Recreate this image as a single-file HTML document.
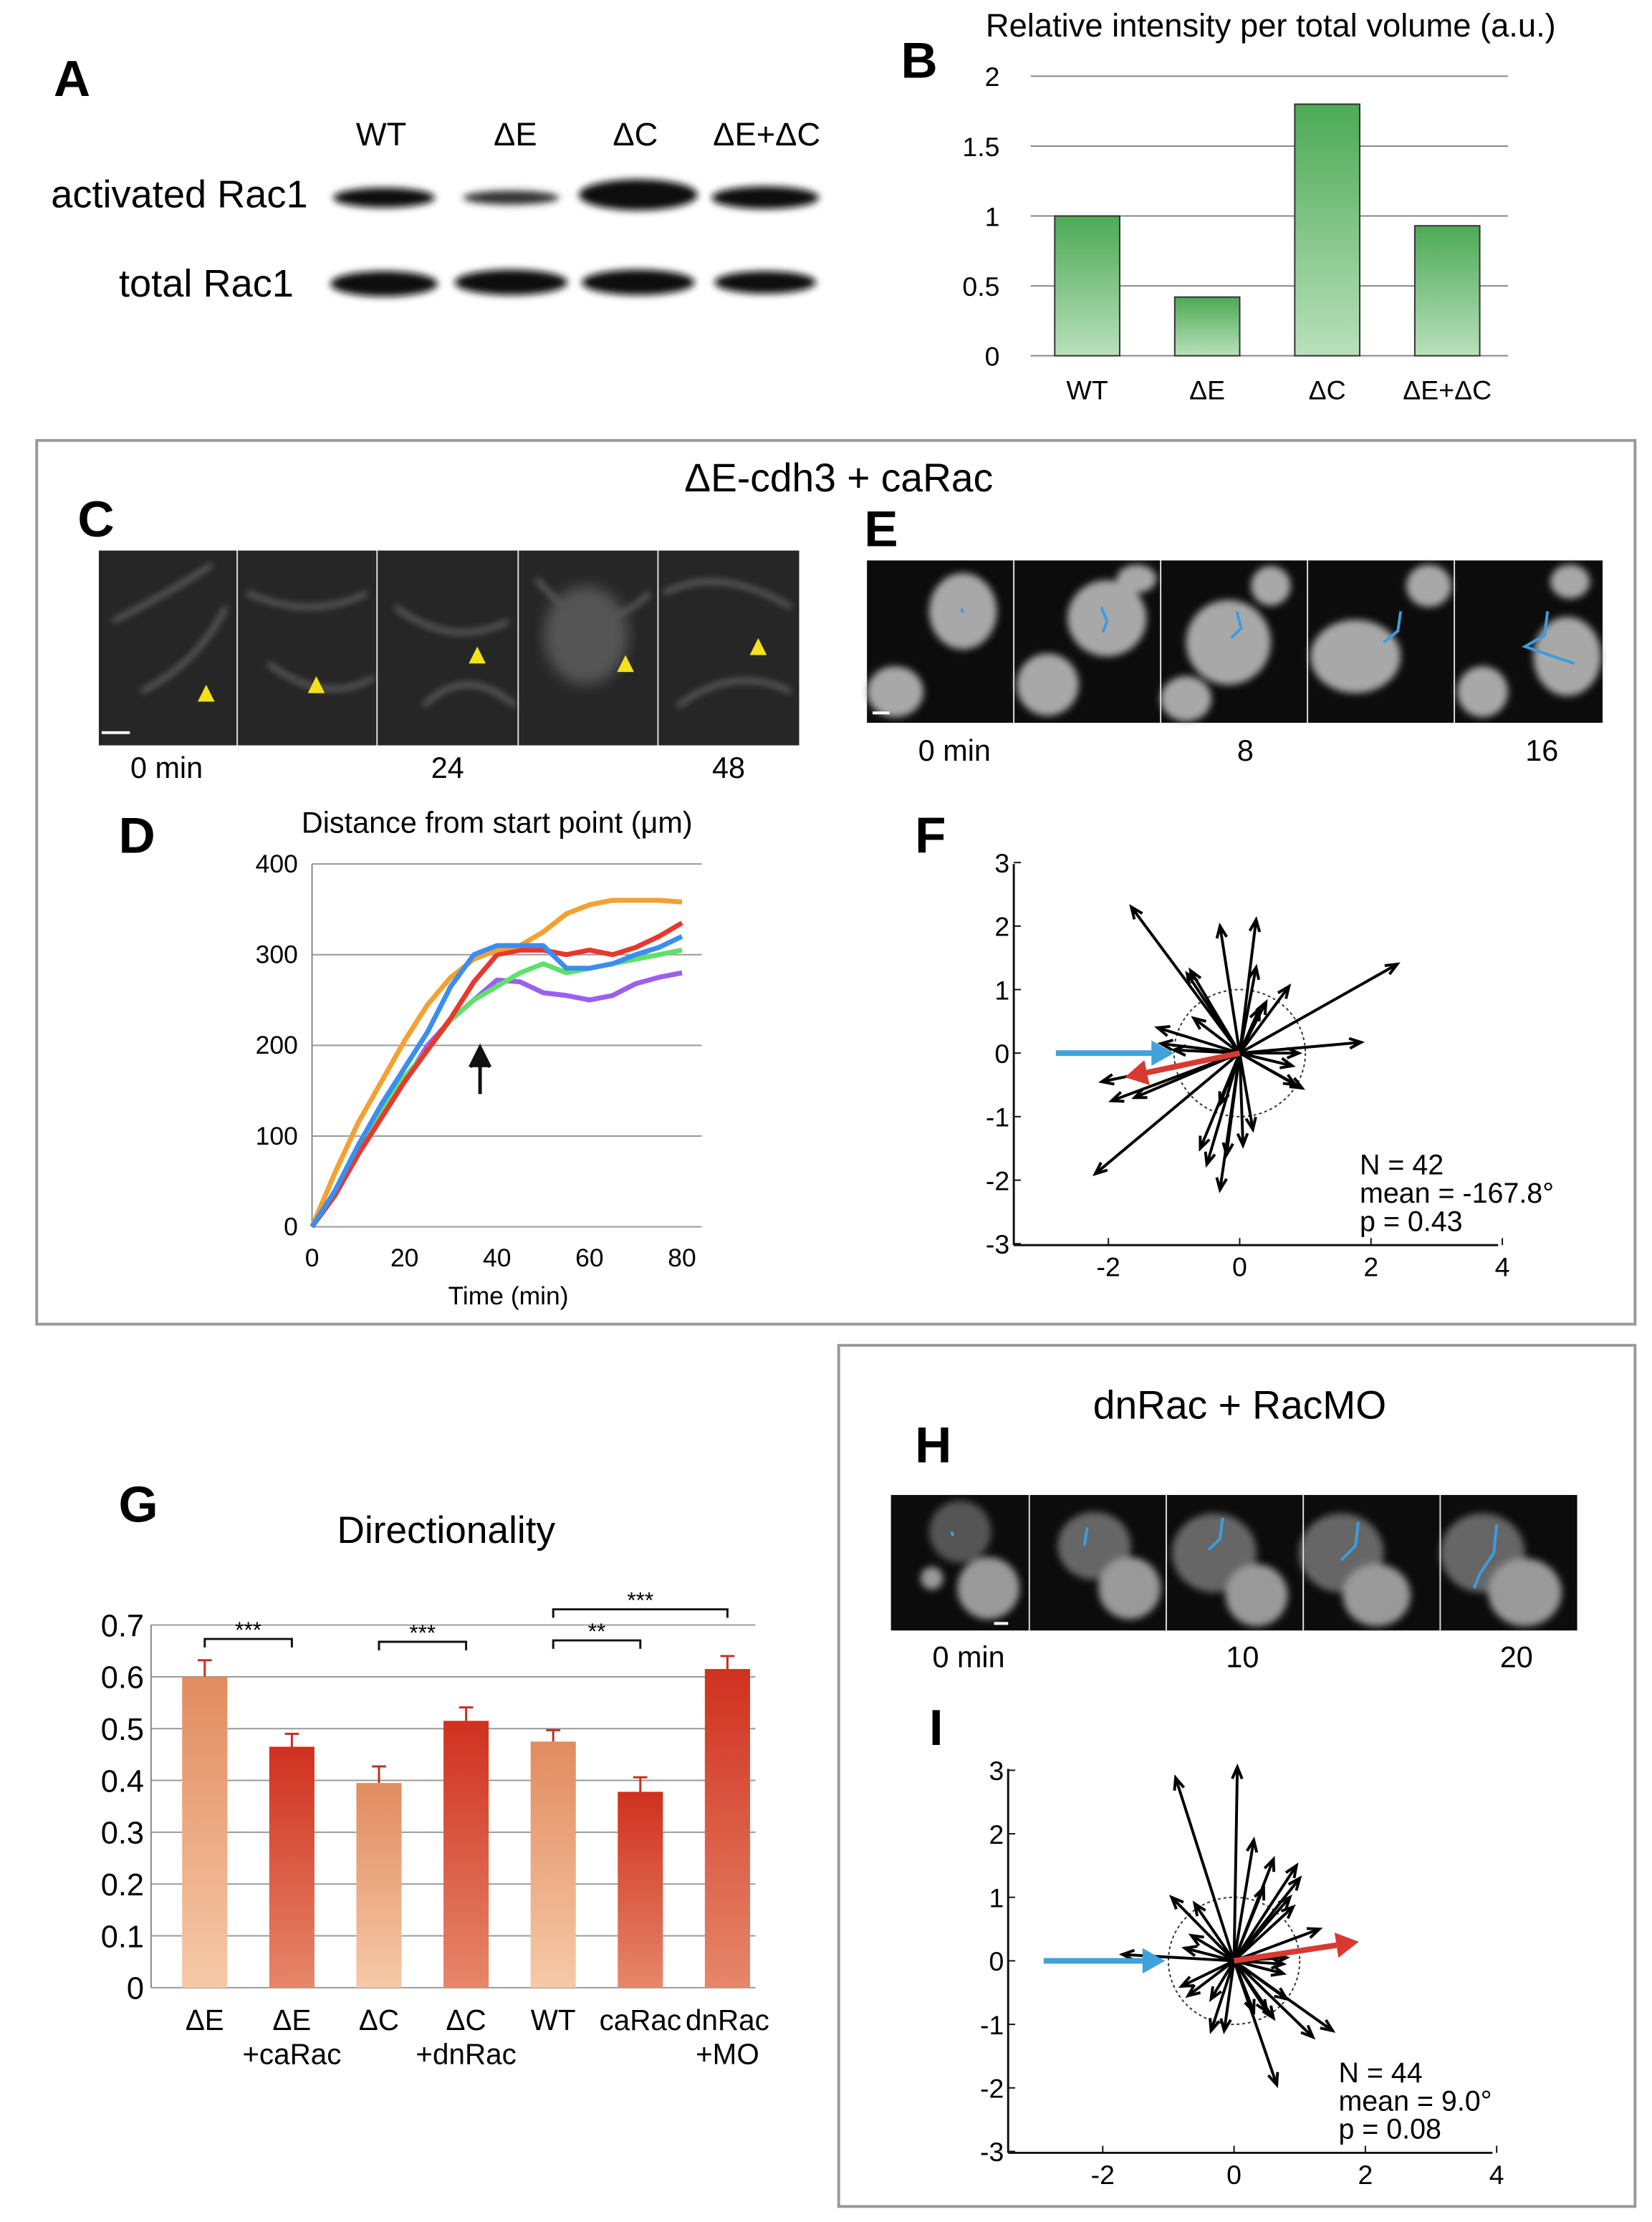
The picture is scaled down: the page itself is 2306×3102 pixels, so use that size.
<!DOCTYPE html>
<html><head><meta charset="utf-8"><style>
html,body{margin:0;padding:0;background:#fff}
svg{display:block;font-family:"Liberation Sans",sans-serif}
</style></head><body>
<svg id="fig" width="2306" height="3102" viewBox="0 0 1170 1574" preserveAspectRatio="none" xmlns="http://www.w3.org/2000/svg">
<defs>
<filter id="blur2"><feGaussianBlur stdDeviation="2.5"/></filter>
<filter id="blur4"><feGaussianBlur stdDeviation="5"/></filter>
<linearGradient id="gGreen" x1="0" y1="0" x2="0" y2="1"><stop offset="0" stop-color="#4caa55"/><stop offset="1" stop-color="#b9e0bc"/></linearGradient>
<linearGradient id="gLight" x1="0" y1="0" x2="0" y2="1"><stop offset="0" stop-color="#e28b5f"/><stop offset="1" stop-color="#f6c9a8"/></linearGradient>
<linearGradient id="gRed" x1="0" y1="0" x2="0" y2="1"><stop offset="0" stop-color="#d0301f"/><stop offset="1" stop-color="#e6876a"/></linearGradient>
</defs>

<!-- Panel A -->
<g>
<text x="38" y="68" font-size="36" font-weight="bold">A</text>
<text x="270" y="103" font-size="23" text-anchor="middle">WT</text>
<text x="365" y="103" font-size="23" text-anchor="middle">ΔE</text>
<text x="450" y="103" font-size="23" text-anchor="middle">ΔC</text>
<text x="543" y="103" font-size="23" text-anchor="middle">ΔE+ΔC</text>
<text x="218" y="147" font-size="27.5" text-anchor="end">activated Rac1</text>
<text x="208" y="210" font-size="27.5" text-anchor="end">total Rac1</text>
<g filter="url(#blur2)" fill="#111">
<ellipse cx="272" cy="140" rx="36" ry="7"/><ellipse cx="362" cy="140" rx="34" ry="5" fill="#333"/>
<ellipse cx="452" cy="138" rx="42" ry="11"/><ellipse cx="542" cy="140" rx="38" ry="8"/>
<ellipse cx="272" cy="201" rx="38" ry="9"/><ellipse cx="362" cy="200" rx="40" ry="9"/>
<ellipse cx="452" cy="200" rx="40" ry="9"/><ellipse cx="542" cy="200" rx="36" ry="8"/>
</g>
</g>

<!-- Panel B -->
<g id="chartB">
<text x="638" y="55" font-size="36" font-weight="bold">B</text>
<text x="900" y="26" font-size="23" text-anchor="middle">Relative intensity per total volume (a.u.)</text>
</g>

<!-- Frame 1 -->
<rect x="26" y="312" width="1132" height="626" fill="none" stroke="#999" stroke-width="2"/>
<text x="594" y="348" font-size="28" text-anchor="middle">ΔE-cdh3 + caRac</text>

<!-- Panel C -->
<g>
<text x="55" y="380" font-size="36" font-weight="bold">C</text>
<rect x="70" y="390" width="496" height="138" fill="#262626"/>
<g stroke="#bbb" stroke-width="2" fill="none" opacity="0.7" filter="url(#blur2)">
<path d="M80 440 Q120 420 150 400 M100 490 Q140 470 160 430 M175 420 Q220 440 260 420 M190 470 Q230 500 265 480 M280 430 Q320 460 360 440 M300 500 Q330 470 365 500 M380 410 Q420 460 460 420 M470 420 Q510 400 560 430 M480 500 Q520 470 560 490"/>
</g>
<ellipse cx="415" cy="450" rx="30" ry="35" fill="#555" filter="url(#blur4)"/>
<g stroke="#ddd" stroke-width="1"><line x1="168" y1="390" x2="168" y2="528"/><line x1="267" y1="390" x2="267" y2="528"/><line x1="367" y1="390" x2="367" y2="528"/><line x1="466" y1="390" x2="466" y2="528"/></g>
<g fill="#f3e21a"><polygon points="146,485 140,497 152,497"/><polygon points="224,479 218,491 230,491"/><polygon points="338,458 332,470 344,470"/><polygon points="443,464 437,476 449,476"/><polygon points="537,452 531,464 543,464"/></g>
<line x1="72" y1="519" x2="92" y2="519" stroke="#fff" stroke-width="2"/>
<text x="118" y="551" font-size="21" text-anchor="middle">0 min</text>
<text x="317" y="551" font-size="21" text-anchor="middle">24</text>
<text x="516" y="551" font-size="21" text-anchor="middle">48</text>
</g>

<!-- Panel E -->
<g>
<text x="612" y="387" font-size="36" font-weight="bold">E</text>
<rect x="614" y="397" width="521" height="115" fill="#0c0c0c"/>
<g fill="#a8a8a8" filter="url(#blur2)">
<ellipse cx="682" cy="433" rx="24" ry="27"/><ellipse cx="634" cy="490" rx="20" ry="18"/>
<ellipse cx="784" cy="438" rx="28" ry="27"/><ellipse cx="742" cy="485" rx="22" ry="22"/><ellipse cx="805" cy="410" rx="14" ry="10"/>
<ellipse cx="870" cy="455" rx="30" ry="30"/><ellipse cx="900" cy="415" rx="14" ry="14"/><ellipse cx="840" cy="495" rx="18" ry="16"/>
<ellipse cx="960" cy="465" rx="32" ry="26"/><ellipse cx="1012" cy="415" rx="16" ry="15"/>
<ellipse cx="1110" cy="465" rx="24" ry="28"/><ellipse cx="1050" cy="490" rx="18" ry="18"/><ellipse cx="1112" cy="412" rx="14" ry="12"/>
</g>
<g stroke="#ddd" stroke-width="1"><line x1="718" y1="397" x2="718" y2="512"/><line x1="822" y1="397" x2="822" y2="512"/><line x1="926" y1="397" x2="926" y2="512"/><line x1="1030" y1="397" x2="1030" y2="512"/></g>
<g stroke="#3a9de0" stroke-width="2" fill="none"><path d="M681 431 L682 434"/><path d="M780 430 L784 440 L781 448"/><path d="M876 433 L879 445 L872 452"/><path d="M992 433 L990 447 L980 455"/><path d="M1096 433 L1094 450 L1080 458 L1100 465 L1115 470"/></g>
<line x1="618" y1="505" x2="630" y2="505" stroke="#fff" stroke-width="2"/>
<text x="676" y="539" font-size="21" text-anchor="middle">0 min</text>
<text x="882" y="539" font-size="21" text-anchor="middle">8</text>
<text x="1092" y="539" font-size="21" text-anchor="middle">16</text>
</g>

<!-- Panel D -->
<g id="chartD">
<text x="84" y="604" font-size="36" font-weight="bold">D</text>
<text x="352" y="590" font-size="21" text-anchor="middle">Distance from start point (μm)</text>
<text x="360" y="924" font-size="18" text-anchor="middle">Time (min)</text>
</g>

<!-- Panel F -->
<g id="chartF">
<text x="648" y="604" font-size="36" font-weight="bold">F</text>
<text x="963" y="832" font-size="20">N = 42</text>
<text x="963" y="852" font-size="20">mean = -167.8°</text>
<text x="963" y="872" font-size="20">p = 0.43</text>
</g>

<!-- Panel G -->
<g id="chartG">
<text x="84" y="1078" font-size="36" font-weight="bold">G</text>
<text x="316" y="1093" font-size="27" text-anchor="middle">Directionality</text>
</g>

<!-- Frame 2 -->
<rect x="594" y="953" width="564" height="610" fill="none" stroke="#999" stroke-width="2"/>
<text x="878" y="1005" font-size="28" text-anchor="middle">dnRac + RacMO</text>

<!-- Panel H -->
<g>
<text x="648" y="1036" font-size="36" font-weight="bold">H</text>
<rect x="631" y="1059" width="486" height="96" fill="#0c0c0c"/>
<g fill="#9a9a9a" filter="url(#blur2)">
<ellipse cx="680" cy="1085" rx="22" ry="22" fill="#555"/><ellipse cx="700" cy="1125" rx="22" ry="22"/><ellipse cx="660" cy="1118" rx="8" ry="8"/>
<ellipse cx="775" cy="1095" rx="26" ry="24" fill="#666"/><ellipse cx="800" cy="1125" rx="22" ry="22"/>
<ellipse cx="860" cy="1100" rx="30" ry="28" fill="#666"/><ellipse cx="890" cy="1130" rx="22" ry="22"/>
<ellipse cx="950" cy="1100" rx="30" ry="28" fill="#666"/><ellipse cx="975" cy="1130" rx="24" ry="22"/>
<ellipse cx="1050" cy="1100" rx="30" ry="28" fill="#666"/><ellipse cx="1080" cy="1128" rx="26" ry="24"/>
</g>
<g stroke="#ddd" stroke-width="1"><line x1="729" y1="1059" x2="729" y2="1155"/><line x1="826" y1="1059" x2="826" y2="1155"/><line x1="923" y1="1059" x2="923" y2="1155"/><line x1="1020" y1="1059" x2="1020" y2="1155"/></g>
<g stroke="#3a9de0" stroke-width="2" fill="none"><path d="M674 1085 L675 1088"/><path d="M770 1082 L768 1095"/><path d="M866 1075 L864 1090 L856 1098"/><path d="M962 1078 L960 1095 L950 1105"/><path d="M1060 1080 L1058 1100 L1048 1115 L1044 1125"/></g>
<line x1="704" y1="1150" x2="714" y2="1150" stroke="#fff" stroke-width="2"/>
<text x="686" y="1181" font-size="21" text-anchor="middle">0 min</text>
<text x="880" y="1181" font-size="21" text-anchor="middle">10</text>
<text x="1074" y="1181" font-size="21" text-anchor="middle">20</text>
</g>

<!-- Panel I -->
<g id="chartI">
<text x="658" y="1236" font-size="36" font-weight="bold">I</text>
<text x="948" y="1475" font-size="20">N = 44</text>
<text x="948" y="1495" font-size="20">mean = 9.0°</text>
<text x="948" y="1515" font-size="20">p = 0.08</text>
</g>
</svg>

<script>
// ---- Panel B data ----
const bCategories = ["WT","ΔE","ΔC","ΔE+ΔC"];
const bValues = [1.0, 0.42, 1.8, 0.93];
const bTicks = [0, 0.5, 1, 1.5, 2];

// ---- Panel D data ----
const dTimes = [0,5,10,15,20,25,30,35,40,45,50,55,60,65,70,75,80];
const dOrange = [0,60,115,160,205,245,275,295,305,310,325,345,355,360,360,360,358];
const dRed    = [0,35,80,120,160,195,230,270,300,305,305,300,305,300,308,320,335];
const dBlue   = [0,40,90,135,175,215,265,300,310,310,310,285,285,290,300,308,320];
const dGreen  = [0,35,85,130,165,195,228,250,265,280,290,280,285,290,295,300,305];
const dPurple = [0,35,80,125,160,200,228,250,272,270,258,255,250,255,268,275,280];
const dYTicks = [0,100,200,300,400];
const dXTicks = [0,20,40,60,80];

// ---- Panel F data ----
const fTipsX = [-1.65,-0.3,0.25,0.25,-0.75,-0.8,0.75,0.4,2.4,-1.25,-1.2,-1.0,1.85,0.9,0.8,0.95,0.85,-2.1,-1.95,-1.6,-2.2,-0.5,-0.3,0.05,0.2,-0.6,-0.2,-0.7,0.3,-0.3];
const fTipsY = [2.3,2.0,2.1,1.35,1.3,1.25,1.05,0.8,1.4,0.4,0.15,0.05,0.17,0.0,-0.2,-0.55,-0.5,-0.45,-0.75,-0.7,-1.9,-1.75,-2.15,-1.45,-1.2,-1.5,-1.6,0.55,0.7,-0.8];
const fMean = [-1.75,-0.38];
const fTicksX = [-2,0,2,4];
const fTicksY = [-3,-2,-1,0,1,2,3];

// ---- Panel G data ----
const gCategories = [["ΔE"],["ΔE","+caRac"],["ΔC"],["ΔC","+dnRac"],["WT"],["caRac"],["dnRac","+MO"]];
const gValues = [0.60,0.465,0.395,0.515,0.475,0.378,0.615];
const gErrors = [0.032,0.025,0.032,0.026,0.022,0.028,0.025];
const gTicks = [0,0.1,0.2,0.3,0.4,0.5,0.6,0.7];

// ---- Panel I data ----
const iTipsX = [-0.89,0.05,0.3,0.6,0.95,1.0,0.85,0.9,1.3,-0.95,-0.6,-0.65,-0.75,-1.7,0.8,0.75,0.75,-0.8,-0.7,-0.35,-0.35,-0.15,0.3,0.5,0.6,1.5,1.2,0.65,0.8,0.45];
const iTipsY = [2.88,3.05,1.9,1.6,1.5,1.3,1.0,0.85,0.5,1.0,0.9,0.4,0.2,0.1,0.05,-0.05,-0.2,-0.4,-0.55,-0.6,-1.1,-1.1,-0.8,-0.8,-0.9,-1.1,-1.2,-1.95,-0.6,1.15];
const iMean = [1.9,0.3];

const NS="http://www.w3.org/2000/svg";
function el(parent, tag, attrs){const e=document.createElementNS(NS,tag);for(const k in attrs)e.setAttribute(k,attrs[k]);parent.appendChild(e);return e;}
function txt(parent,x,y,s,size,anchor){const t=el(parent,"text",{x:x,y:y,"font-size":size,"text-anchor":anchor||"middle"});t.textContent=s;return t;}

// ---- Chart B ----
(function(){
 const g=document.getElementById("chartB");
 const y=v=>252-v*99, x0=730, x1=1068;
 const cx=i=>770+i*85;
 bTicks.forEach(t=>{
  const l=el(g,"line",{x1:x0,x2:x1,y1:y(t),y2:y(t),stroke:"#888","stroke-width":1});
  
  
  const tl=txt(g,708,y(t)+7,String(t),19,"end");
  
  
 });
 bValues.forEach((v,i)=>{
  const r=el(g,"rect",{x:cx(i)-23,y:y(v),width:46,height:v*99,fill:"url(#gGreen)",stroke:"#333","stroke-width":1});
  
  
  const t=txt(g,cx(i),283,bCategories[i],19);
  
  
 });
})();

// ---- Chart D ----
(function(){
 const g=document.getElementById("chartD");
 const x=v=>221+v*3.275, y=v=>869-v*0.6425;
 dYTicks.forEach(t=>{
  const l=el(g,"line",{x1:x(0),x2:497,y1:y(t),y2:y(t),stroke:"#999","stroke-width":1});
  
  
  const tl=txt(g,211,y(t)+6,String(t),18,"end");
  
  
 });
 el(g,"line",{x1:x(0),x2:x(0),y1:y(0),y2:y(400),stroke:"#888","stroke-width":1});
 dXTicks.forEach(t=>{
  const tl=txt(g,x(t),897,String(t),18);
  
  
 });
 const series=[[dPurple,"#9b5ff0","purple"],[dGreen,"#5fe06a","green"],[dRed,"#e8382e","red"],[dOrange,"#f5a030","orange"],[dBlue,"#3a8ef0","blue"]];
 series.forEach(s=>{
  const pts=dTimes.map((t,i)=>x(t)+","+y(s[0][i])).join(" ");
  const p=el(g,"polyline",{points:pts,fill:"none",stroke:s[1],"stroke-width":3.5,"stroke-linejoin":"round"});
  
  
 });
 const a=el(g,"path",{d:"M340 775 L340 746 M333 756 L340 742 L347 756",stroke:"#111","stroke-width":2.5,fill:"#111"});
 
 
})();

// ---- vector plot helper ----
function vectorPlot(gid, ox, oy, sx, sy, axX, axYtop, axYbot, axXright, tipsX, tipsY, mean, blueStart, blueEnd, prefix){
 const g=document.getElementById(gid);
 const X=v=>ox+v*sx, Y=v=>oy-v*sy;
 el(g,"line",{x1:axX,x2:axX,y1:axYtop,y2:axYbot,stroke:"#111","stroke-width":1.5});
 el(g,"line",{x1:axX,x2:axXright,y1:axYbot,y2:axYbot,stroke:"#111","stroke-width":1.5});
 fTicksY.forEach(t=>{
  if(Y(t)<axYtop-2||Y(t)>axYbot+2) return;
  el(g,"line",{x1:axX,x2:axX+5,y1:Y(t),y2:Y(t),stroke:"#111"});
  const tl=txt(g,axX-3,Y(t)+7,String(t),19,"end");
  
  
 });
 fTicksX.forEach(t=>{
  el(g,"line",{x1:X(t),x2:X(t),y1:axYbot,y2:axYbot-5,stroke:"#111"});
  const tl=txt(g,X(t),axYbot+22,String(t),19);
  
  
 });
 el(g,"ellipse",{cx:ox,cy:oy,rx:sx,ry:sy,fill:"none",stroke:"#333","stroke-dasharray":"2,2","stroke-width":1});
 tipsX.forEach((tx,i)=>{
  const x2=X(tx),y2=Y(tipsY[i]);
  const ang=Math.atan2(y2-oy,x2-ox);
  const h=9;
  const d="M"+ox+" "+oy+" L"+x2+" "+y2+" M"+(x2-h*Math.cos(ang-0.4))+" "+(y2-h*Math.sin(ang-0.4))+" L"+x2+" "+y2+" L"+(x2-h*Math.cos(ang+0.4))+" "+(y2-h*Math.sin(ang+0.4));
  const p=el(g,"path",{d:d,stroke:"#000","stroke-width":2,fill:"none"});
  
  
 });
 const bx0=X(blueStart), bx1=X(blueEnd);
 const b=el(g,"path",{d:"M"+bx0+" "+oy+" L"+(bx1-14)+" "+oy,stroke:"#3fa2dd","stroke-width":4});
 
 
 el(g,"polygon",{points:(bx1-16)+","+(oy-9)+" "+bx1+","+oy+" "+(bx1-16)+","+(oy+9),fill:"#3fa2dd"});
 const mx=X(mean[0]), my=Y(mean[1]);
 const ang=Math.atan2(my-oy,mx-ox);
 const bx=mx-16*Math.cos(ang), by=my-16*Math.sin(ang);
 const r=el(g,"line",{x1:ox,y1:oy,x2:bx,y2:by,stroke:"#d83a32","stroke-width":4});
 
 
 el(g,"polygon",{points:(bx+9*Math.sin(ang))+","+(by-9*Math.cos(ang))+" "+mx+","+my+" "+(bx-9*Math.sin(ang))+","+(by+9*Math.cos(ang)),fill:"#d83a32"});
}
vectorPlot("chartF",878,746,46.5,45,718,612,882,1061,fTipsX,fTipsY,fMean,-2.8,-1.0,"f");
vectorPlot("chartI",874,1389,46.5,45,714,1253,1525,1057,iTipsX,iTipsY,iMean,-2.9,-1.05,"i");

// ---- Chart G ----
(function(){
 const g=document.getElementById("chartG");
 const y=v=>1408-v*367, cx=i=>145+i*61.7;
 gTicks.forEach(t=>{
  const l=el(g,"line",{x1:107,x2:535,y1:y(t),y2:y(t),stroke:"#999","stroke-width":1});
  
  
  const tl=txt(g,102,y(t)+8,t===0?"0":t.toFixed(1),22,"end");
  
  
 });
 el(g,"line",{x1:107,x2:107,y1:y(0),y2:y(0.7),stroke:"#888"});
 gValues.forEach((v,i)=>{
  const light=(i===0||i===2||i===4);
  const top=y(v+gErrors[i]);
  el(g,"line",{x1:cx(i),x2:cx(i),y1:y(v),y2:top,stroke:"#c03020","stroke-width":1.5});
  el(g,"line",{x1:cx(i)-5,x2:cx(i)+5,y1:top,y2:top,stroke:"#c03020","stroke-width":1.5});
  const r=el(g,"rect",{x:cx(i)-16,y:y(v),width:32,height:v*367,fill:light?"url(#gLight)":"url(#gRed)"});
  
  
  gCategories[i].forEach((s,k)=>{
   const t=txt(g,cx(i),1438+k*24,s,20.5);
   
   
  });
 });
 const brackets=[[0,1,1161,"***"],[2,3,1163,"***"],[4,5,1162,"**"],[4,6,1140,"***"]];
 brackets.forEach(b=>{
  const p=el(g,"path",{d:"M"+cx(b[0])+" "+(b[2]+6)+" L"+cx(b[0])+" "+b[2]+" L"+cx(b[1])+" "+b[2]+" L"+cx(b[1])+" "+(b[2]+6),stroke:"#111",fill:"none","stroke-width":1.5});
  
  
  txt(g,(cx(b[0])+cx(b[1]))/2,b[2]-1,b[3],16);
 });
})();
</script>
</body></html>
